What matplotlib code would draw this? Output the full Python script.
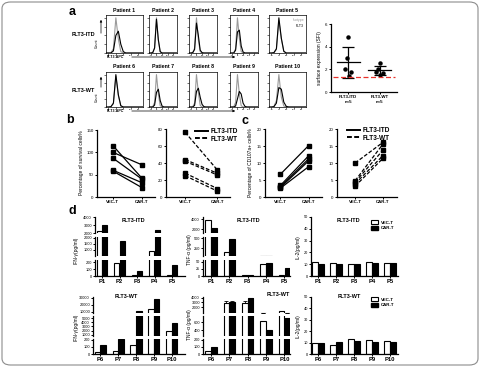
# -*- coding: utf-8 -*-

import matplotlib
matplotlib.use("Agg")
from matplotlib import pyplot as plt
from matplotlib.lines import Line2D
from matplotlib.patches import FancyArrowPatch, FancyBboxPatch, Patch
import numpy

plt.rcParams['font.family'] = ['Liberation Sans', 'DejaVu Sans']

W, H = 480.0, 367.0

# ---- panel a: flow histograms (counts on a shared channel grid) ----
patient_names = ["Patient %d" % i for i in range(1, 11)]
hist_grid = list(range(16))
hist_ticks = [1, 4, 7, 10, 13]
hist_tick_labels = ["-10³", "0", "10³", "10⁴", "10⁵"]
iso_counts = [
    [0, 0, 1, 12, 100, 40, 4, 0, 0, 0, 0, 0, 0, 0, 0, 0],
    [0, 0, 1, 15, 100, 35, 3, 0, 0, 0, 0, 0, 0, 0, 0, 0],
    [0, 0, 1, 14, 100, 38, 4, 0, 0, 0, 0, 0, 0, 0, 0, 0],
    [0, 0, 1, 12, 100, 42, 4, 0, 0, 0, 0, 0, 0, 0, 0, 0],
    [0, 0, 1, 10, 92, 40, 4, 0, 0, 0, 0, 0, 0, 0, 0, 0],
    [0, 0, 1, 10, 95, 35, 3, 0, 0, 0, 0, 0, 0, 0, 0, 0],
    [0, 0, 1, 14, 100, 40, 4, 0, 0, 0, 0, 0, 0, 0, 0, 0],
    [0, 0, 1, 12, 100, 45, 5, 0, 0, 0, 0, 0, 0, 0, 0, 0],
    [0, 0, 1, 14, 100, 40, 4, 0, 0, 0, 0, 0, 0, 0, 0, 0],
    [0, 0, 2, 20, 100, 30, 3, 0, 0, 0, 0, 0, 0, 0, 0, 0],
]
flt3_counts = [
    [0, 0, 0, 6, 50, 62, 25, 4, 0, 0, 0, 0, 0, 0, 0, 0],
    [0, 0, 1, 14, 96, 38, 4, 0, 0, 0, 0, 0, 0, 0, 0, 0],
    [0, 0, 1, 10, 85, 50, 8, 1, 0, 0, 0, 0, 0, 0, 0, 0],
    [0, 0, 0, 8, 60, 65, 20, 3, 0, 0, 0, 0, 0, 0, 0, 0],
    [0, 0, 1, 12, 100, 42, 5, 0, 0, 0, 0, 0, 0, 0, 0, 0],
    [0, 0, 1, 12, 100, 38, 4, 0, 0, 0, 0, 0, 0, 0, 0, 0],
    [0, 0, 0, 6, 45, 55, 20, 3, 0, 0, 0, 0, 0, 0, 0, 0],
    [0, 0, 0, 5, 48, 58, 30, 8, 1, 0, 0, 0, 0, 0, 0, 0],
    [0, 0, 0, 3, 25, 48, 40, 12, 2, 0, 0, 0, 0, 0, 0, 0],
    [0, 0, 1, 12, 60, 55, 15, 2, 0, 0, 0, 0, 0, 0, 0, 0],
]

# ---- panel a: surface expression ----
sfi_groups = ["FLT3-ITD\nn=5", "FLT3-WT\nn=5"]
sfi_itd = [4.85, 3.0, 2.0, 1.8, 1.4]
sfi_wt = [2.6, 2.0, 1.8, 1.65, 1.5]
sfi_cutoff = 1.35

# ---- panels b and c ----
arms = ["VEC-T", "CAR-T"]
survival_itd_vec = [115, 100, 87, 60, 58]
survival_itd_car = [42, 72, 40, 32, 21]
survival_wt_vec = [76, 44, 42, 28, 25]
survival_wt_car = [32, 28, 26, 10, 7]
cd107_itd_vec = [6.7, 3.4, 3.0, 2.8, 2.6]
cd107_itd_car = [15.1, 12.1, 11.2, 10.6, 8.9]
cd107_wt_vec = [10, 4.8, 4.4, 3.9, 3.2]
cd107_wt_car = [16.1, 15.6, 13.8, 12.2, 11.4]

# ---- panel d: cytokines (pg/ml) ----
itd_patients = ["P1", "P2", "P3", "P4", "P5"]
wt_patients = ["P6", "P7", "P8", "P9", "P10"]
ifn_itd_vec = [2200, 190, 10, 900, 8]
ifn_itd_car = [3000, 1700, 75, 2400, 160]
tnf_itd_vec = [3900, 157, 3, 43, 3]
tnf_itd_car = [2200, 475, 2, 47, 27]
il2_itd_vec = [11.5, 11.3, 10.2, 11.6, 11]
il2_itd_car = [10.5, 10.2, 10, 10.8, 10.8]
ifn_wt_vec = [30, 40, 120, 14000, 1970]
ifn_wt_car = [133, 215, 11500, 28500, 3900]
tnf_wt_vec = [40, 2900, 2900, 625, 1200]
tnf_wt_car = [98, 3000, 4000, 400, 690]
tnf_wt_vec_err = [0, 350, 350, 0, 0]
tnf_wt_car_err = [0, 300, 0, 0, 0]
il2_wt_vec = [10, 8, 12.9, 12.3, 11.7]
il2_wt_car = [10, 10.8, 11.7, 10.2, 10.2]


def rect(x0, y0, x1, y1):
    return [x0 / W, 1 - y1 / H, (x1 - x0) / W, (y1 - y0) / H]


def fpos(x, y):
    return x / W, 1 - y / H


def style_axes(ax, bottom=True, labelsize=3):
    for side in ("top", "right"):
        ax.spines[side].set_visible(False)
    ax.spines["left"].set_linewidth(0.9)
    ax.spines["bottom"].set_linewidth(0.9)
    if not bottom:
        ax.spines["bottom"].set_visible(False)
        ax.tick_params(axis="x", bottom=False, labelbottom=False)
    ax.tick_params(length=1.5, width=0.7, labelsize=labelsize, pad=1)


def arrow(fig, start, end):
    fig.add_artist(FancyArrowPatch(posA=fpos(*start), posB=fpos(*end),
                                   transform=fig.transFigure, arrowstyle="-|>",
                                   mutation_scale=3, lw=0.5, color="black"))


def draw_histograms(fig):
    boxes = [(106, 143), (149, 177), (189, 217), (230, 258), (269, 306)]
    rows = [(15, 53), (72, 107)]
    for r, (top, bot) in enumerate(rows):
        for c, (left, right) in enumerate(boxes):
            i = r * 5 + c
            ax = fig.add_axes(rect(left, top, right, bot))
            ax.plot(hist_grid, iso_counts[i], color="#9a9a9a", lw=0.8)
            ax.plot(hist_grid, flt3_counts[i], color="black", lw=0.8)
            ax.set_xlim(0, 15)
            ax.set_ylim(0, 108)
            ax.set_xticks(hist_ticks)
            ax.set_xticklabels(hist_tick_labels, fontsize=1.6)
            ax.set_yticks([0, 25, 50, 75, 100])
            ax.set_yticklabels([])
            ax.tick_params(length=1.2, width=0.4, pad=0.5)
            for s in ax.spines.values():
                s.set_linewidth(0.5)
            fig.text(*fpos((left + right) / 2.0, top - 5), patient_names[i],
                     ha="center", va="center", fontsize=3.8, fontweight="bold")
            if i == 4:
                ax.text(0.95, 0.86, "Isotype", color="#9a9a9a", fontsize=2.6,
                        ha="right", va="center", transform=ax.transAxes)
                ax.text(0.95, 0.72, "FLT3", color="black", fontsize=2.6,
                        ha="right", va="center", transform=ax.transAxes)
        fig.text(*fpos(83, top + 19), ["FLT3-ITD", "FLT3-WT"][r], ha="center",
                 va="center", fontsize=4, fontweight="bold")
        fig.text(*fpos(97, bot - 10), "Count", rotation=90, ha="center",
                 va="center", fontsize=2.6)
        arrow(fig, (101, bot - 17), (101, top + 2))
        fig.text(*fpos(107, bot + 4), "FLT3-APC", ha="left", va="center",
                 fontsize=2.6, fontweight="bold")
        arrow(fig, (129, bot + 4), (238, bot + 4))


def draw_sfi(fig):
    ax = fig.add_axes(rect(331, 24, 397, 92))
    jitter = [0, -0.05, -0.12, 0.1, 0.02]
    for k, vals in enumerate([sfi_itd, sfi_wt]):
        ax.plot(numpy.full(len(vals), k) + numpy.array(jitter), vals, "o",
                ms=2.2, color="black")
        m = numpy.mean(vals)
        sd = numpy.std(vals, ddof=1)
        ax.plot([k - 0.36, k + 0.36], [m, m], color="black", lw=0.9)
        ax.errorbar(k, m, yerr=sd, fmt="none", ecolor="black", elinewidth=0.9,
                    capsize=4, capthick=0.9)
    ax.axhline(sfi_cutoff, xmin=0.03, xmax=0.97, color="#e8312a",
               ls=(0, (4, 2)), lw=0.9)
    ax.set_xlim(-0.55, 1.55)
    ax.set_ylim(0, 6)
    ax.set_yticks([0, 2, 4, 6])
    ax.set_xticks([0, 1])
    ax.set_xticklabels(sfi_groups, fontsize=4.2, fontweight="bold",
                       linespacing=1.3)
    style_axes(ax, labelsize=3.2)
    ax.set_ylabel("surface expression (SFI)", fontsize=3.5, labelpad=2)


def paired_panel(fig, box, xlim, vec, car, ymax, yticks, dashed):
    ax = fig.add_axes(rect(*box))
    ls = (0, (3, 1.5)) if dashed else "-"
    for a, b in zip(vec, car):
        ax.plot([0, 1], [a, b], color="black", lw=0.9, ls=ls, marker="s",
                ms=2.3)
    ax.set_xlim(*xlim)
    ax.set_ylim(0, ymax)
    ax.set_yticks(yticks)
    ax.set_xticks([0, 1])
    ax.set_xticklabels(arms, fontsize=4.3, fontweight="bold")
    style_axes(ax, labelsize=3.2)
    return ax


def group_legend(ax, fig, x, y):
    handles = [Line2D([], [], color="black", lw=1.4, ls="-", label="FLT3-ITD"),
               Line2D([], [], color="black", lw=1.4, ls=(0, (2.5, 1.2)),
                      label="FLT3-WT")]
    ax.legend(handles=handles, loc="upper left", bbox_to_anchor=fpos(x, y),
              bbox_transform=fig.transFigure, frameon=False,
              prop={"size": 4.7, "weight": "bold"}, handlelength=2.0,
              labelspacing=0.05, borderpad=0, handletextpad=0.3)


def draw_paired(fig):
    paired_panel(fig, (97, 130, 155, 197), (-0.55, 1.45), survival_itd_vec,
                 survival_itd_car, 150, [0, 50, 100, 150], False)
    ax = paired_panel(fig, (166, 129, 230, 197), (-0.6, 1.4), survival_wt_vec,
                      survival_wt_car, 80, [0, 20, 40, 60, 80], True)
    group_legend(ax, fig, 192, 125)
    fig.text(*fpos(82, 163), "Percentage of survival cells%", rotation=90,
             ha="center", va="center", fontsize=3.5)

    paired_panel(fig, (265, 129, 322, 197), (-0.55, 1.48), cd107_itd_vec,
                 cd107_itd_car, 20, [0, 5, 10, 15, 20], False)
    ax = paired_panel(fig, (337, 129, 397, 197), (-0.65, 1.5), cd107_wt_vec,
                      cd107_wt_car, 20, [0, 5, 10, 15, 20], True)
    group_legend(ax, fig, 344, 124)
    fig.text(*fpos(250, 163), "Percentage of CD107a+ cells%", rotation=90,
             ha="center", va="center", fontsize=3.5)


def bar_panel(fig, x0, x1, segments, xlim, vec, car, names, vec_err=None,
              car_err=None):
    pos = numpy.arange(len(names))
    zeros = numpy.zeros(len(names))
    ekw = dict(elinewidth=0.6, capsize=1.2, capthick=0.6, ecolor="black")
    axes = []
    for k, (top, bot, lo, hi, ticks) in enumerate(segments):
        ax = fig.add_axes(rect(x0, top, x1, bot))
        ax.bar(pos - 0.16, vec, 0.3, color="white", edgecolor="black", lw=0.8,
               yerr=None if vec_err is None else [zeros, vec_err],
               error_kw=ekw)
        ax.bar(pos + 0.16, car, 0.3, color="black", edgecolor="black", lw=0.8,
               yerr=None if car_err is None else [zeros, car_err],
               error_kw=ekw)
        ax.set_xlim(*xlim)
        ax.set_ylim(lo, hi)
        ax.set_yticks(ticks)
        ax.set_yticklabels([str(t) for t in ticks])
        last = k == len(segments) - 1
        style_axes(ax, bottom=last, labelsize=2.8)
        ax.tick_params(length=1.2)
        if last:
            ax.set_xticks(pos)
            ax.set_xticklabels(names, fontsize=4.2, fontweight="bold")
        axes.append(ax)
    return axes


def bar_legend(ax, fig, x, y):
    handles = [Patch(facecolor="white", edgecolor="black", lw=0.8,
                     label="VEC-T"),
               Patch(facecolor="black", edgecolor="black", label="CAR-T")]
    ax.legend(handles=handles, loc="upper left", bbox_to_anchor=fpos(x, y),
              bbox_transform=fig.transFigure, frameon=False,
              prop={"size": 3.2, "weight": "bold"}, handlelength=1.6,
              handleheight=0.9, labelspacing=0.3, borderpad=0,
              handletextpad=0.5)


def draw_cytokines(fig):
    top_row = [(217, 233), (237, 256), (260, 276)]
    bot_row = [(297, 313), (316, 336), (339, 354)]

    ifn_itd_segs = [(2000, 4000, [2000, 3000, 4000]),
                    (500, 2050, [1000, 1500, 2000]),
                    (0, 230, [0, 100, 200])]
    tnf_itd_segs = [(1200, 4400, [2000, 4000]),
                    (50, 525, [250, 500]),
                    (0, 57, [0, 25, 50])]
    ifn_wt_segs = [(8000, 31000, [10000, 20000, 30000]),
                   (700, 5500, [1000, 2000, 3000, 4000, 5000]),
                   (0, 210, [0, 100, 200])]
    tnf_wt_segs = [(700, 4200, [2000, 3000, 4000]),
                   (250, 750, [400, 600]),
                   (0, 210, [0, 100, 200])]

    def segs(rows, ranges):
        return [(t, b, lo, hi, ticks) for (t, b), (lo, hi, ticks) in zip(rows, ranges)]

    bar_panel(fig, 95, 185, segs(top_row, ifn_itd_segs), (-0.4, 4.74),
              ifn_itd_vec, ifn_itd_car, itd_patients)
    bar_panel(fig, 203, 290, segs(top_row, tnf_itd_segs), (-0.43, 4.3),
              tnf_itd_vec, tnf_itd_car, itd_patients)
    ax = bar_panel(fig, 311, 398, [(217, 276, 0, 50, [0, 10, 20, 30, 40, 50])],
                   (-0.39, 4.44), il2_itd_vec, il2_itd_car, itd_patients)
    bar_legend(ax[0], fig, 369, 218)

    bar_panel(fig, 93, 185, segs(bot_row, ifn_wt_segs), (-0.4, 4.74),
              ifn_wt_vec, ifn_wt_car, wt_patients)
    bar_panel(fig, 203, 290, segs(bot_row, tnf_wt_segs), (-0.43, 4.3),
              tnf_wt_vec, tnf_wt_car, wt_patients, tnf_wt_vec_err,
              tnf_wt_car_err)
    ax = bar_panel(fig, 311, 398, [(297, 354, 0, 50, [0, 10, 20, 30, 40, 50])],
                   (-0.39, 4.44), il2_wt_vec, il2_wt_car, wt_patients)
    bar_legend(ax[0], fig, 369, 295)

    for (x, y), txt in zip([(133, 220), (248, 220), (348, 220),
                            (126, 297), (278, 295), (349, 297)],
                           ["FLT3-ITD"] * 3 + ["FLT3-WT"] * 3):
        fig.text(*fpos(x, y), txt, ha="center", va="center", fontsize=4,
                 fontweight="bold")
    for (x, y), txt in zip([(76, 250), (190, 250), (298, 247),
                            (76, 327), (189, 325), (298, 326)],
                           ["IFN-γ(pg/ml)", "TNF-α (pg/ml)", "IL-2(pg/ml)"] * 2):
        fig.text(*fpos(x, y), txt, rotation=90, ha="center", va="center",
                 fontsize=3.5)


def draw_figure():
    fig = plt.figure(figsize=(4.8, 3.67), dpi=100)
    fig.add_artist(FancyBboxPatch(fpos(2, 365), 476 / W, 363 / H,
                                  boxstyle="round,pad=0,rounding_size=0.018",
                                  transform=fig.transFigure, fill=False,
                                  ec="#8c8c8c", lw=0.8))
    for (x, y), letter in zip([(72, 12), (70, 120), (245, 121), (72, 211)],
                              "abcd"):
        fig.text(*fpos(x, y), letter, ha="center", va="center", fontsize=9,
                 fontweight="bold")
    draw_histograms(fig)
    draw_sfi(fig)
    draw_paired(fig)
    draw_cytokines(fig)
    fig.savefig("out.png", dpi=100)


if __name__ == '__main__':
    draw_figure()
